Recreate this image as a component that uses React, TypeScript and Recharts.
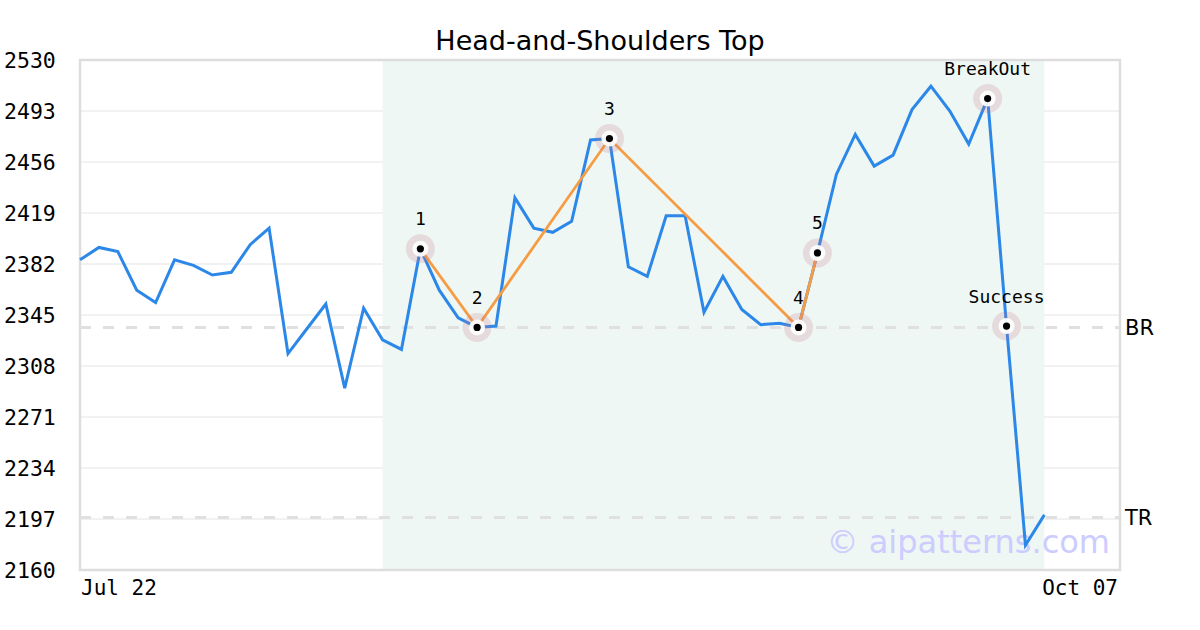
import React from 'react';
import {
  ComposedChart,
  Line,
  XAxis,
  YAxis,
  CartesianGrid,
  ReferenceArea,
  ReferenceLine,
} from 'recharts';

// closing prices, one per session
const prices = [
  2385, 2394, 2391, 2363, 2354, 2385, 2381, 2374, 2376, 2396,
  2408, 2317, 2335, 2353, 2292, 2350, 2327, 2320, 2393, 2363,
  2343, 2336, 2337, 2430, 2408, 2405, 2413, 2472, 2473, 2380,
  2373, 2417, 2417, 2347, 2373, 2349, 2338, 2339, 2336, 2390,
  2447, 2476, 2453, 2461, 2494, 2511, 2493, 2469, 2502, 2337,
  2178, 2200,
];

const yTicks = [2160, 2197, 2234, 2271, 2308, 2345, 2382, 2419, 2456, 2493, 2530];
const xTickIdx = [0, 55];
const xTickLabels = ['Jul 22', 'Oct 07'];

const patternIdx = [18, 21, 28, 38, 39];
const patternLabels = ['1', '2', '3', '4', '5'];
const signalIdx = [48, 49];
const signalLabels = ['BreakOut', 'Success'];

const zoneStart = 16;
const zoneEnd = 51;
const breakLevel = 2336;
const targetLevel = 2198;

const MONO = '"DejaVu Sans Mono", monospace';
const SANS = '"DejaVu Sans", sans-serif';

const markIdx = [...patternIdx, ...signalIdx];
const markLabels = [...patternLabels, ...signalLabels];

const data = prices.map((p, i) => ({
  idx: i,
  price: p,
  pattern: patternIdx.includes(i) ? p : null,
  mark: markIdx.includes(i) ? p : null,
  markLabel: markIdx.includes(i) ? markLabels[markIdx.indexOf(i)] : '',
}));

const YTick = ({ y, payload }: any) => (
  <text x={4} y={y} dy="0.36em" fontFamily={MONO} fontSize={21.5} fill="#000">
    {payload.value}
  </text>
);

const XTick = ({ x, y, payload }: any) => {
  const i = xTickIdx.indexOf(payload.value);
  const first = i === 0;
  return (
    <text
      x={first ? x + 1 : x - 2}
      y={y + 2}
      dy="0.71em"
      textAnchor={first ? 'start' : 'end'}
      fontFamily={MONO}
      fontSize={21}
      fill="#000"
    >
      {xTickLabels[i]}
    </text>
  );
};

const Marker = (props: any) => {
  const { cx, cy, payload, index } = props;
  if (payload.mark == null || cy == null) return <g key={index} />;
  return (
    <g key={index}>
      <circle cx={cx} cy={cy} r={14.5} fill="rgb(200,120,140)" fillOpacity={0.22} />
      <circle cx={cx} cy={cy} r={8} fill="#fff" fillOpacity={0.92} />
      <circle cx={cx} cy={cy} r={3.6} fill="#000" />
      <text x={cx} y={cy - 30} dy="0.36em" textAnchor="middle" fontFamily={MONO} fontSize={18} fill="#000">
        {payload.markLabel}
      </text>
    </g>
  );
};

const Watermark = ({ viewBox }: any) => (
  <text
    x={viewBox.x + viewBox.width - 10}
    y={viewBox.y + viewBox.height - 17}
    textAnchor="end"
    fontFamily={SANS}
    fontSize={32}
    fill="#ccccff"
  >
    © aipatterns.com
  </text>
);

export default function App() {
  return (
    <div style={{ position: 'absolute', left: 0, top: 0, width: 1200, height: 630, background: '#fff' }}>
      <div
        style={{
          position: 'absolute',
          top: 25,
          left: 0,
          width: 1200,
          textAlign: 'center',
          fontFamily: SANS,
          fontSize: 27,
          lineHeight: '32px',
          color: '#000',
        }}
      >
        Head-and-Shoulders Top
      </div>
      <ComposedChart width={1200} height={630} data={data} margin={{ top: 60, right: 80, left: 0, bottom: 30 }}>
        <ReferenceArea x1={zoneStart} x2={zoneEnd} y1={2160} y2={2530} fill="#eef7f3" fillOpacity={1} stroke="none" />
        <CartesianGrid vertical={false} stroke="#e4e4e4" strokeWidth={1} />
        <ReferenceArea
          x1={0}
          x2={55}
          y1={2160}
          y2={2530}
          fill="none"
          stroke="#dddddd"
          strokeWidth={2.5}
          label={<Watermark />}
        />
        <ReferenceLine
          y={breakLevel}
          stroke="#e0e0e0"
          strokeWidth={3}
          strokeDasharray="11 12"
          label={{ value: 'BR', position: 'right', fill: '#000', fontSize: 21, fontFamily: SANS }}
        />
        <ReferenceLine
          y={targetLevel}
          stroke="#e0e0e0"
          strokeWidth={3}
          strokeDasharray="11 12"
          label={{ value: 'TR', position: 'right', fill: '#000', fontSize: 21, fontFamily: SANS }}
        />
        <XAxis
          dataKey="idx"
          type="number"
          domain={[0, 55]}
          ticks={xTickIdx}
          axisLine={false}
          tickLine={false}
          tick={<XTick />}
          height={30}
          interval={0}
        />
        <YAxis
          type="number"
          domain={[2160, 2530]}
          ticks={yTicks}
          axisLine={false}
          tickLine={false}
          tick={<YTick />}
          width={80}
          interval={0}
          allowDataOverflow
        />
        <Line
          type="linear"
          dataKey="price"
          stroke="#2b87e8"
          strokeWidth={3}
          dot={false}
          activeDot={false}
          isAnimationActive={false}
        />
        <Line
          type="linear"
          dataKey="pattern"
          stroke="#f59c45"
          strokeWidth={2.8}
          connectNulls
          dot={false}
          activeDot={false}
          isAnimationActive={false}
        />
        <Line
          type="linear"
          dataKey="mark"
          stroke="none"
          dot={Marker}
          activeDot={false}
          isAnimationActive={false}
        />
      </ComposedChart>
    </div>
  );
}
